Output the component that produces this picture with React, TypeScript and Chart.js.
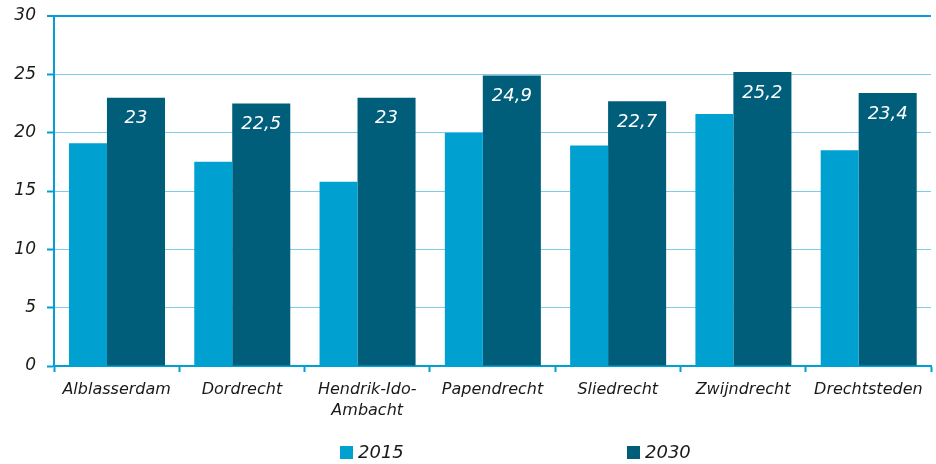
import React, { useEffect, useRef } from "react";
import { Chart, registerables } from "chart.js";

Chart.register(...registerables);

const categories = ["Alblasserdam", "Dordrecht", "Hendrik-Ido-Ambacht", "Papendrecht", "Sliedrecht", "Zwijndrecht", "Drechtsteden"];
const categoryLines = [["Alblasserdam"], ["Dordrecht"], ["Hendrik-Ido-", "Ambacht"], ["Papendrecht"], ["Sliedrecht"], ["Zwijndrecht"], ["Drechtsteden"]];
const seriesNames = ["2015", "2030"];
const values2015 = [19.1, 17.5, 15.8, 20.0, 18.9, 21.6, 18.5];
const values2030 = [23, 22.5, 23, 24.9, 22.7, 25.2, 23.4];
const yMin = 0;
const yMax = 30;
const yStep = 5;

const LIGHT = "#00A1D1";
const DARK = "#005E7A";
const AXIS = "#00A0D6";
const GRID = "#7FCCE9";
const TEXT = "#1A1A1A";
const FONT = '"DejaVu Sans", Verdana, sans-serif';

const fmt = (v: number) => String(v).replace(".", ",");

const valueLabelPlugin = {
  id: "valueLabels",
  afterDatasetsDraw(chart: any) {
    const ctx = chart.ctx;
    const meta = chart.getDatasetMeta(1);
    const data = chart.data.datasets[1].data as number[];
    ctx.save();
    ctx.font = `italic 18px ${FONT}`;
    ctx.fillStyle = "#FFFFFF";
    ctx.textAlign = "center";
    ctx.textBaseline = "middle";
    meta.data.forEach((bar: any, i: number) => {
      ctx.fillText(fmt(data[i]), bar.x, bar.y + 21);
    });
    ctx.restore();
  },
};

const customLegendPlugin = {
  id: "customLegend",
  afterDraw(chart: any) {
    const ctx = chart.ctx;
    const starts = [340, 627];
    const y = 446;
    ctx.save();
    ctx.font = `italic 18px ${FONT}`;
    ctx.textAlign = "left";
    ctx.textBaseline = "middle";
    chart.data.datasets.forEach((ds: any, i: number) => {
      const x = starts[i];
      ctx.fillStyle = ds.backgroundColor;
      ctx.fillRect(x, y, 13, 13);
      ctx.fillStyle = TEXT;
      ctx.fillText(ds.label, x + 18, y + 7);
    });
    ctx.restore();
  },
};

export default function App() {
  const ref = useRef<HTMLCanvasElement>(null);
  useEffect(() => {
    if (!ref.current) return;
    const chart = new Chart(ref.current, {
      type: "bar",
      data: {
        labels: categoryLines as any,
        datasets: [
          {
            label: seriesNames[0],
            data: values2015,
            backgroundColor: LIGHT,
            categoryPercentage: 0.915,
            barPercentage: 0.663,
          },
          {
            label: seriesNames[1],
            data: values2030,
            backgroundColor: DARK,
            categoryPercentage: 0.617,
            barPercentage: 1.502,
          },
        ],
      },
      options: {
        animation: false,
        responsive: false,
        events: [],
        layout: { padding: { top: 16, right: 5, bottom: 38, left: 0 } },
        plugins: {
          legend: { display: false },
          tooltip: { enabled: false },
          title: { display: false },
        },
        scales: {
          x: {
            grid: {
              display: true,
              drawOnChartArea: false,
              drawTicks: true,
              tickLength: 6,
              tickColor: AXIS,
              tickWidth: 2,
              offset: true,
            },
            border: { display: true, color: AXIS, width: 2 },
            ticks: {
              color: TEXT,
              font: { family: FONT, size: 16, style: "italic", lineHeight: 1.33 },
              padding: 7,
              maxRotation: 0,
              autoSkip: false,
            },
            afterFit: (s: any) => {
              s.height = 60;
            },
          },
          y: {
            min: yMin,
            max: yMax,
            ticks: {
              stepSize: yStep,
              color: TEXT,
              font: { family: FONT, size: 17, style: "italic" },
              padding: 11,
            },
            grid: {
              color: (c: any) => (c.tick && c.tick.value === yMax ? AXIS : GRID),
              lineWidth: (c: any) => (c.tick && c.tick.value === yMax ? 2 : 1),
              tickColor: AXIS,
              tickLength: 7,
              tickWidth: 2,
            },
            border: { display: true, color: AXIS, width: 2 },
            afterFit: (s: any) => {
              s.width = 54;
              s.paddingTop = 0;
              s.paddingBottom = 0;
            },
          },
        },
      },
      plugins: [valueLabelPlugin, customLegendPlugin],
    });
    return () => chart.destroy();
  }, []);
  return (
    <div style={{ position: "absolute", left: 0, top: 0, width: 936, height: 464, background: "#fff" }}>
      <canvas ref={ref} width={936} height={464} aria-label={categories.join(", ")} />
    </div>
  );
}
